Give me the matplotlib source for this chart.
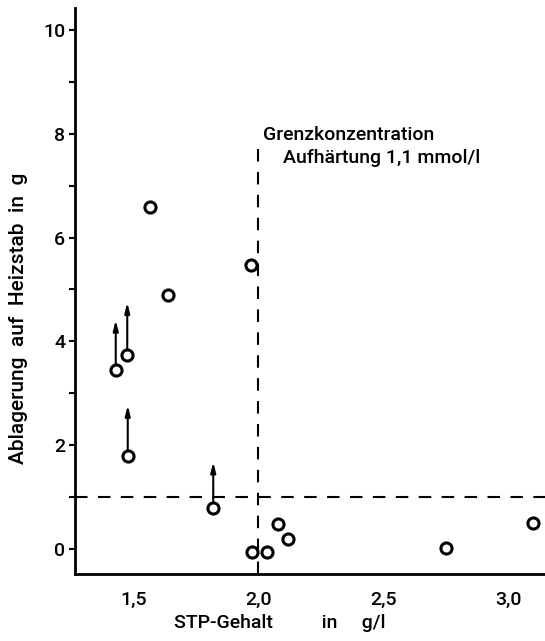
import matplotlib
matplotlib.use("Agg")
import matplotlib.pyplot as plt
from matplotlib.ticker import MultipleLocator, FixedLocator

plt.rcParams['font.family'] = ['Roboto', 'DejaVu Sans']
plt.rcParams['font.weight'] = 'medium'
plt.rcParams['axes.labelweight'] = 'medium'

# STP content (g/l) and deposit on heating rod (g)
stp = [1.567, 1.64, 1.97, 1.476, 1.43, 1.478, 1.82, 1.976, 2.036, 2.078, 2.12, 2.75, 3.098]
deposit = [6.58, 4.89, 5.47, 3.74, 3.44, 1.79, 0.80, -0.05, -0.06, 0.48, 0.19, 0.03, 0.51]

# points whose measured deposit is a lower bound: start value and arrow tip
arrow_x = [1.476, 1.43, 1.478, 1.82]
arrow_from = [3.74, 3.44, 1.79, 0.80]
arrow_to = [4.75, 4.41, 2.77, 1.68]

limit_stp = 2.0
limit_deposit = 1.0

xticks = [1.5, 2.0, 2.5, 3.0]
xticklabels = ["1,5", "2,0", "2,5", "3,0"]
yticks = [0, 2, 4, 6, 8, 10]

fig = plt.figure(figsize=(5.45, 6.41), dpi=100)
ax = fig.add_axes([0.1376, 0.1045, 0.8624, 0.883])
ax.set_xlim(1.267, 3.147)
ax.set_ylim(-0.48, 10.42)

for s in ("top", "right"):
    ax.spines[s].set_visible(False)
for s in ("left", "bottom"):
    ax.spines[s].set_linewidth(2)

# arrows for lower-bound values
for xa, y0, y1 in zip(arrow_x, arrow_from, arrow_to):
    ax.annotate("", xy=(xa, y1), xytext=(xa, y0),
                arrowprops=dict(arrowstyle="-|>,head_length=0.6,head_width=0.15",
                                color="black", lw=1.5, shrinkA=4, shrinkB=0))

ax.plot(stp, deposit, linestyle="none", marker="o", markersize=8,
        markerfacecolor="white", markeredgecolor="black", markeredgewidth=2.2,
        zorder=5, clip_on=False)

# limit lines
ax.plot([limit_stp, limit_stp], [-0.48, 7.88], color="black", lw=1.5,
        dashes=(6, 5))
ax.axhline(limit_deposit, color="black", lw=1.5, dashes=(6, 5))

ax.text(2.019, 7.98, "Grenzkonzentration", fontsize=14, ha="left", va="center")
ax.text(2.099, 7.53, "Aufhärtung 1,1 mmol/l", fontsize=14, ha="left", va="center")

ax.xaxis.set_major_locator(FixedLocator(xticks))
ax.set_xticklabels(xticklabels)
ax.yaxis.set_major_locator(FixedLocator(yticks))
ax.yaxis.set_minor_locator(MultipleLocator(1))
ax.tick_params(axis="x", length=0, labelsize=14, pad=12)
ax.tick_params(axis="y", which="major", length=4, width=1.5, labelsize=14, pad=3)
ax.tick_params(axis="y", which="minor", length=4, width=1.5)

ax.set_xlabel("STP-Gehalt          in     g/l", fontsize=14)
ax.set_ylabel("Ablagerung  auf  Heizstab  in  g", fontsize=15)
ax.xaxis.set_label_coords(0.436, -0.07)
ax.yaxis.set_label_coords(-0.1, 0.452)

fig.savefig("out.png", dpi=100)
